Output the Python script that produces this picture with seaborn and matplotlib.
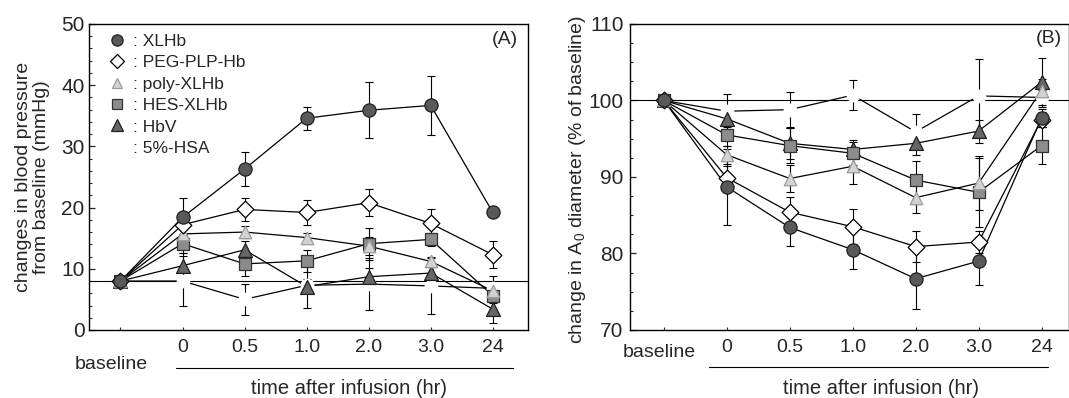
import numpy as np
import pandas as pd
import matplotlib
matplotlib.use("Agg")
import matplotlib.pyplot as plt
from matplotlib.lines import Line2D
from matplotlib.ticker import MultipleLocator
import seaborn as sns

# ---- data -------------------------------------------------------------
time_labels = ["baseline", "0", "0.5", "1.0", "2.0", "3.0", "24"]
series_names = ["XLHb", "PEG-PLP-Hb", "poly-XLHb", "HES-XLHb", "HbV", "5%-HSA"]

# (A) change in blood pressure from baseline (mmHg), mean and SE
bp_xlhb = [8.0, 18.4, 26.3, 34.6, 35.9, 36.7, 19.2]
bp_peg = [8.0, 17.2, 19.7, 19.2, 20.8, 17.4, 12.3]
bp_poly = [8.0, 15.7, 16.0, 15.1, 13.7, 11.2, 6.4]
bp_hes = [8.0, 14.1, 10.8, 11.3, 14.1, 14.8, 5.6]
bp_hbv = [8.0, 10.5, 13.1, 7.1, 8.7, 9.3, 3.4]
bp_hsa = [8.0, 8.0, 5.0, 7.3, 7.5, 7.2, 6.8]

bp_xlhb_se = [0.0, 3.2, 2.8, 1.9, 4.6, 4.8, 0.5]
bp_peg_se = [0.0, 1.5, 1.9, 2.0, 2.2, 2.4, 2.2]
bp_poly_se = [0.0, 1.0, 1.0, 0.8, 1.5, 0.8, 0.8]
bp_hes_se = [0.0, 1.5, 2.0, 1.8, 2.6, 1.0, 1.2]
bp_hbv_se = [0.0, 2.0, 1.5, 3.5, 1.5, 1.0, 2.3]
bp_hsa_se = [0.0, 4.1, 2.5, 1.0, 4.3, 4.6, 2.0]

# (B) change in A0 arteriole diameter (% of baseline), mean and SE
dia_xlhb = [100.0, 88.7, 83.4, 80.5, 76.7, 79.0, 97.7]
dia_peg = [100.0, 89.9, 85.4, 83.5, 80.9, 81.5, 97.5]
dia_poly = [100.0, 92.9, 89.8, 91.4, 87.3, 89.2, 101.3]
dia_hes = [100.0, 95.5, 94.1, 93.1, 89.6, 88.0, 94.1]
dia_hbv = [100.0, 97.6, 94.4, 93.6, 94.4, 96.0, 102.4]
dia_hsa = [100.0, 98.6, 98.8, 100.7, 95.9, 100.6, 100.4]

dia_xlhb_se = [0.0, 5.0, 2.4, 2.5, 3.9, 3.1, 1.2]
dia_peg_se = [0.0, 1.5, 2.0, 2.3, 2.0, 1.5, 1.0]
dia_poly_se = [0.0, 1.2, 1.8, 2.3, 2.0, 3.5, 1.5]
dia_hes_se = [0.0, 1.5, 2.3, 1.5, 2.5, 4.5, 2.4]
dia_hbv_se = [0.0, 1.0, 2.0, 1.2, 1.5, 1.5, 3.2]
dia_hsa_se = [0.0, 2.3, 2.3, 2.0, 2.3, 4.8, 1.0]

# ---- styling ----------------------------------------------------------
sns.set_style("ticks")
plt.rcParams["font.family"] = ["Liberation Sans", "DejaVu Sans"]
plt.rcParams["mathtext.fontset"] = "custom"
plt.rcParams["mathtext.rm"] = "Liberation Sans"

# marker, face colour, edge colour, size (pt); drawing order bottom -> top
styles = {
    "5%-HSA": ("o", "white", "white", 9),
    "HbV": ("^", "#666666", "#1e1e1e", 10),
    "HES-XLHb": ("s", "#8c8c8c", "#333333", 8.5),
    "poly-XLHb": ("^", "#d2d2d2", "#9a9a9a", 9),
    "PEG-PLP-Hb": ("D", "white", "black", 8.5),
    "XLHb": ("o", "#595959", "#202020", 9.5),
}

x = np.arange(len(time_labels))


def build_frame(values, errors):
    rows = []
    for name in series_names:
        for xi, lab, v, e in zip(x, time_labels, values[name], errors[name]):
            rows.append({"series": name, "pos": xi, "time": lab, "value": v, "se": e})
    return pd.DataFrame(rows)


bp_df = build_frame(
    {"XLHb": bp_xlhb, "PEG-PLP-Hb": bp_peg, "poly-XLHb": bp_poly,
     "HES-XLHb": bp_hes, "HbV": bp_hbv, "5%-HSA": bp_hsa},
    {"XLHb": bp_xlhb_se, "PEG-PLP-Hb": bp_peg_se, "poly-XLHb": bp_poly_se,
     "HES-XLHb": bp_hes_se, "HbV": bp_hbv_se, "5%-HSA": bp_hsa_se},
)
dia_df = build_frame(
    {"XLHb": dia_xlhb, "PEG-PLP-Hb": dia_peg, "poly-XLHb": dia_poly,
     "HES-XLHb": dia_hes, "HbV": dia_hbv, "5%-HSA": dia_hsa},
    {"XLHb": dia_xlhb_se, "PEG-PLP-Hb": dia_peg_se, "poly-XLHb": dia_poly_se,
     "HES-XLHb": dia_hes_se, "HbV": dia_hbv_se, "5%-HSA": dia_hsa_se},
)

fig = plt.figure(figsize=(10.69, 3.98), dpi=100)
axA = fig.add_axes([0.0831, 0.1709, 0.4104, 0.7688])
axB = fig.add_axes([0.5898, 0.1709, 0.4098, 0.7688])


def draw_panel(ax, df, ref):
    ax.axhline(ref, color="black", lw=0.8, zorder=1)
    for k, name in enumerate(styles):
        m, fc, ec, ms = styles[name]
        d = df[df["series"] == name]
        sns.lineplot(data=d, x="pos", y="value", ax=ax, color="black",
                     lw=0.9, zorder=2 + k * 0.01, legend=False,
                     errorbar=None, sort=False)
        ax.errorbar(d["pos"], d["value"], yerr=d["se"], fmt="none",
                    ecolor="black", elinewidth=0.8, capsize=2.6,
                    capthick=0.8, zorder=3 + k * 0.01)
        sns.scatterplot(data=d, x="pos", y="value", ax=ax, marker=m,
                        color=fc, edgecolor=ec, s=ms ** 2, linewidth=0.9,
                        zorder=4 + k * 0.01, legend=False)


def format_panel(ax, ylim, major, minor, ytick_pad):
    ax.set_ylim(*ylim)
    ax.yaxis.set_major_locator(MultipleLocator(major))
    ax.yaxis.set_minor_locator(MultipleLocator(minor))
    ax.set_xticks(x)
    ax.set_xticklabels([""] + time_labels[1:])
    ax.set_xlabel("")
    ax.tick_params(axis="y", which="major", direction="in", length=4,
                   width=0.9, labelsize=15, pad=ytick_pad)
    ax.tick_params(axis="y", which="minor", direction="in", length=2.5,
                   width=0.8)
    ax.tick_params(axis="x", which="major", direction="in", length=2.5,
                   width=0.8, labelsize=14, pad=6.5)
    for sp in ax.spines.values():
        sp.set_visible(True)
        sp.set_linewidth(1.0)
        sp.set_color("black")


# ---- (A) blood pressure ----------------------------------------------
draw_panel(axA, bp_df, 8.0)
axA.set_xlim(-0.51, 6.56)
format_panel(axA, (0, 50), 10, 2, 3)
axA.set_ylabel("changes in blood pressure\nfrom baseline (mmHg)",
               fontsize=14, va="center", linespacing=1.05)
axA.yaxis.set_label_coords(-0.128, 0.5)
axA.text(0.05, -0.114, "baseline", transform=axA.transAxes,
         ha="center", va="center", fontsize=14)
axA.plot([0.198, 0.967], [-0.124, -0.124], transform=axA.transAxes,
         color="black", lw=0.8, clip_on=False)
axA.text(0.594, -0.19, "time after infusion (hr)", transform=axA.transAxes,
         ha="center", va="center", fontsize=14.5)
axA.text(0.948, 0.948, "(A)", transform=axA.transAxes,
         ha="center", va="center", fontsize=14)

handles = []
for name in series_names:
    m, fc, ec, ms = styles[name]
    handles.append(Line2D([], [], marker=m, linestyle="none",
                          markerfacecolor=fc, markeredgecolor=ec,
                          markersize=ms * 0.85, markeredgewidth=0.9))
axA.legend(handles, [": " + n for n in series_names], loc="upper left",
           bbox_to_anchor=(0.045, 0.968), frameon=False, fontsize=12.5,
           handlelength=1.0, handletextpad=0.4, labelspacing=0.36,
           borderpad=0, borderaxespad=0, numpoints=1)

# ---- (B) arteriole diameter ------------------------------------------
draw_panel(axB, dia_df, 100.0)
axB.set_xlim(-0.53, 6.43)
format_panel(axB, (70, 110), 10, 2.5, 5)
axB.set_ylabel(r"change in A$_{\mathregular{0}}$ diameter (% of baseline)",
               fontsize=14, va="center")
axB.yaxis.set_label_coords(-0.12, 0.49)
axB.text(0.065, -0.075, "baseline", transform=axB.transAxes,
         ha="center", va="center", fontsize=14)
axB.plot([0.179, 0.952], [-0.121, -0.121], transform=axB.transAxes,
         color="black", lw=0.8, clip_on=False)
axB.text(0.571, -0.19, "time after infusion (hr)", transform=axB.transAxes,
         ha="center", va="center", fontsize=14.5)
axB.text(0.954, 0.951, "(B)", transform=axB.transAxes,
         ha="center", va="center", fontsize=14)

fig.savefig("out.png", dpi=100)
